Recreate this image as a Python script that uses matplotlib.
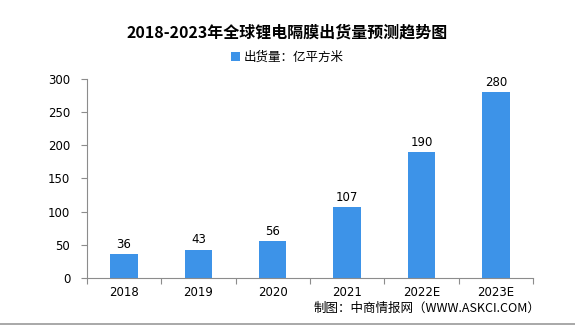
import numpy as np
import matplotlib
matplotlib.use("Agg")
from matplotlib import pyplot as plt

plt.rcParams['font.family'] = ['Noto Sans CJK SC', 'DejaVu Sans']

years = ["2018", "2019", "2020", "2021", "2022E", "2023E"]
shipments = [36, 43, 56, 107, 190, 280]

bar_color = '#3d93e8'
axis_color = '#8c8c8c'

fig = plt.figure(figsize=(5.75, 3.26), dpi=100, facecolor='white')
ax = fig.add_axes([0.151, 0.147, 0.776, 0.611])

x = np.arange(len(years))
bars = ax.bar(x, shipments, width=0.37, color=bar_color, label='出货量：亿平方米', zorder=2)
for xi, v in zip(x, shipments):
    ax.text(xi, v + 5, str(v), ha='center', va='bottom', fontsize=8.5, family='DejaVu Sans')

ax.set_xlim(-0.5, len(years) - 0.5)
ax.set_ylim(0, 300)
ax.set_yticks(range(0, 301, 50))
ax.set_xticks(x)
ax.set_xticklabels(years, fontsize=8.5, family='DejaVu Sans')
ax.tick_params(axis='y', labelsize=8.5, colors=axis_color, labelcolor='black', length=4, width=0.8, pad=8)
ax.tick_params(axis='x', length=0, pad=6)
# category boundary ticks
ax.set_xticks(np.arange(-0.5, len(years)), minor=True)
ax.tick_params(axis='x', which='minor', length=4, color=axis_color, width=0.8)
for lab in ax.get_yticklabels():
    lab.set_family('DejaVu Sans')

for s in ['top', 'right']:
    ax.spines[s].set_visible(False)
for s in ['left', 'bottom']:
    ax.spines[s].set_color(axis_color)
    ax.spines[s].set_linewidth(0.8)

fig.text(0.5, 0.9, '2018-2023年全球锂电隔膜出货量预测趋势图', ha='center', va='center',
         fontsize=11.5, fontweight='bold')
fig.legend(loc='center', bbox_to_anchor=(0.5, 0.825), frameon=False, fontsize=9,
           handlelength=0.7, handleheight=0.7, handletextpad=0.3)
fig.text(0.94, 0.055, '制图：中商情报网（WWW.ASKCI.COM）', ha='right', va='center', fontsize=9)

fig.add_artist(plt.Line2D([0, 1], [0.006, 0.006], color='#999999', linewidth=1.2, transform=fig.transFigure))

fig.savefig('out.png', dpi=100, facecolor='white')
